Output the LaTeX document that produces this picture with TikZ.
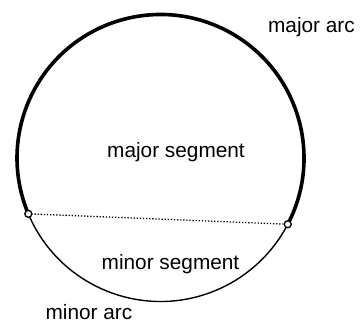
\documentclass[tikz,border=0pt]{standalone}
\usepackage{fontspec}
\setmainfont{Liberation Sans}
\usepackage{tikz}
\usetikzlibrary{arrows.meta, positioning, calc}
\definecolor{cink}{HTML}{000000}
\tikzset{
  font=\fontsize{20.8}{24}\selectfont,
  majorline/.style={draw=cink, line width=3.6pt},
  minorline/.style={draw=cink, line width=1.4pt},
  chordline/.style={draw=cink, line width=1.3pt, dash pattern=on 1.3pt off 1.8pt},
  endpt/.style={
    circle, draw=cink, fill=white, line width=1.3pt,
    inner sep=0pt, minimum size=7pt
  },
  lab/.style={anchor=base, text=cink, inner sep=0pt}
}
\begin{document}
\begin{tikzpicture}[x=1pt, y=1pt]
  \useasboundingbox (0,0) rectangle (360,323);
  \coordinate (O) at (160.5,165);
  \coordinate (pL) at ([shift={(202.9:143.5)}]O);
  \coordinate (pR) at ([shift={(-27.5:143.5)}]O);
  % arcs of the circle
  \draw[majorline] (pR) arc[start angle=-27.5, end angle=202.9, radius=143.5];
  \draw[minorline] (pL) arc[start angle=202.9, end angle=332.5, radius=143.5];
  \draw[chordline] (pL) -- (pR);
  \node[endpt] (left) at (pL) {};
  \node[endpt] (right) at (pR) {};
  % labels
  \node[lab] (majarc) at (311.5,290) {major arc};
  \node[lab] (majseg) at (176,165.7) {major segment};
  \node[lab] (minseg) at (170.5,53.7) {minor segment};
  \node[lab] (minarc) at (89,3) {minor arc};
\end{tikzpicture}
\end{document}
